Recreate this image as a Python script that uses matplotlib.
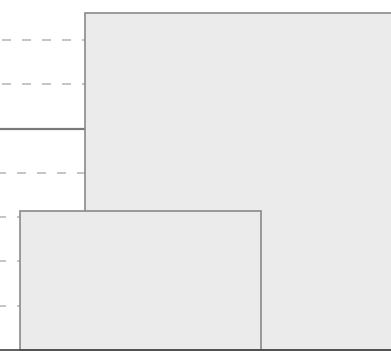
import matplotlib
matplotlib.use("Agg")
import matplotlib.pyplot as plt

# bar data (visible crop of a larger chart)
bar_lefts = [0.85, 0.20]
bar_widths = [3.20, 2.41]
bar_heights = [7.61, 3.14]
grid_levels = [1, 2, 3, 4, 6, 7, 8]
ref_level = 5

fig = plt.figure(figsize=(3.91, 3.51), dpi=100)
ax = fig.add_axes([0, 0, 1, 1])

# dashed grid behind everything (dash lengths given in pixels, converted)
px = 72 / 100 / 1.1
for g in grid_levels:
    off = 3 if g < ref_level else 18
    ax.axhline(g, color="#b4b4b4", lw=1.1, ls=(off * px, (9 * px, 11 * px)), zorder=0)
ax.axhline(ref_level, color="#7a7a7a", lw=1.6, zorder=1)

ax.bar(bar_lefts, bar_heights, width=bar_widths, align="edge",
       color="#ebebeb", edgecolor="#8a8a8a", linewidth=1.2, zorder=2)

ax.set_xlim(0, 3.91)
ax.set_ylim(-0.02, 7.90)
for s in ["top", "left", "right"]:
    ax.spines[s].set_visible(False)
ax.spines["bottom"].set_color("#444444")
ax.spines["bottom"].set_linewidth(1.2)
ax.spines["bottom"].set_position(("data", 0))
ax.spines["bottom"].set_zorder(3)
ax.set_xticks([])
ax.set_yticks([])

fig.savefig("out.png", dpi=100)
